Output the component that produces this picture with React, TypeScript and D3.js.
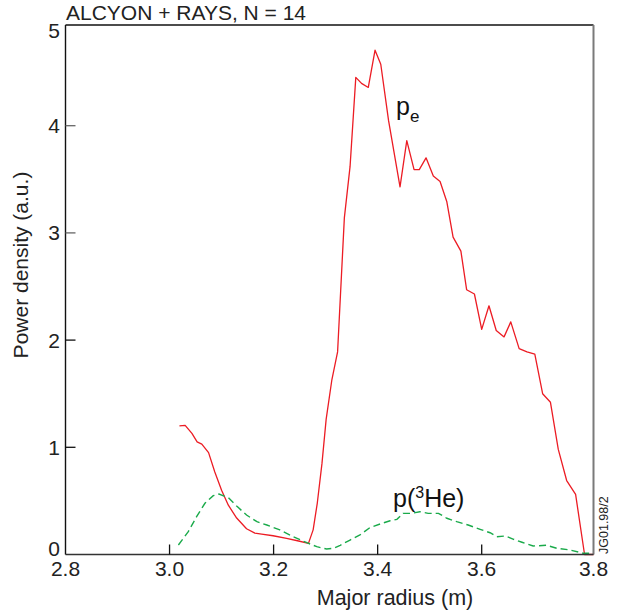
import React from "react";
import * as d3 from "d3";

const title = "ALCYON + RAYS, N = 14";
const xTicks = [2.8, 3.0, 3.2, 3.4, 3.6, 3.8];
const yTicks = [0, 1, 2, 3, 4, 5];

const peRadius = [3.019, 3.030, 3.043, 3.053, 3.062, 3.075, 3.087, 3.100, 3.113, 3.129, 3.148, 3.164, 3.177, 3.199, 3.225, 3.248, 3.267, 3.276, 3.284, 3.293, 3.301, 3.312, 3.323, 3.336, 3.347, 3.358, 3.369, 3.382, 3.395, 3.406, 3.421, 3.443, 3.456, 3.470, 3.480, 3.493, 3.507, 3.520, 3.533, 3.545, 3.560, 3.571, 3.586, 3.600, 3.613, 3.626, 3.640, 3.652, 3.667, 3.681, 3.695, 3.709, 3.723, 3.737, 3.752, 3.768, 3.784, 3.800];
const peValue = [1.20, 1.205, 1.13, 1.05, 1.03, 0.95, 0.77, 0.60, 0.46, 0.34, 0.24, 0.20, 0.19, 0.175, 0.15, 0.126, 0.104, 0.23, 0.48, 0.85, 1.26, 1.63, 1.89, 3.14, 3.62, 4.48, 4.42, 4.38, 4.75, 4.61, 4.05, 3.43, 3.86, 3.59, 3.59, 3.70, 3.53, 3.48, 3.29, 2.96, 2.83, 2.47, 2.43, 2.10, 2.32, 2.09, 2.03, 2.17, 1.92, 1.89, 1.87, 1.50, 1.42, 0.98, 0.69, 0.56, 0.0, 0.0];

const heRadius = [3.017, 3.036, 3.052, 3.068, 3.084, 3.095, 3.113, 3.129, 3.148, 3.168, 3.187, 3.212, 3.238, 3.264, 3.283, 3.302, 3.315, 3.328, 3.347, 3.366, 3.385, 3.405, 3.424, 3.437, 3.449, 3.465, 3.481, 3.497, 3.517, 3.533, 3.552, 3.574, 3.597, 3.615, 3.627, 3.642, 3.657, 3.672, 3.692, 3.716, 3.734, 3.758, 3.782, 3.800];
const heValue = [0.089, 0.213, 0.353, 0.478, 0.549, 0.564, 0.530, 0.452, 0.368, 0.306, 0.275, 0.229, 0.166, 0.110, 0.073, 0.051, 0.058, 0.086, 0.135, 0.182, 0.250, 0.285, 0.315, 0.328, 0.384, 0.384, 0.399, 0.384, 0.384, 0.338, 0.306, 0.275, 0.235, 0.203, 0.166, 0.173, 0.142, 0.114, 0.079, 0.086, 0.058, 0.042, 0.011, 0.011];

const W = 622;
const H = 614;
const FONT = "'Liberation Sans', Arial, Helvetica, sans-serif";

export default function App() {
  const x = d3.scaleLinear().domain([2.8, 3.6, 3.8]).range([65.5, 481.7, 593.5]);
  const y = d3.scaleLinear().domain([0, 4, 5]).range([554.5, 125.7, 25]);

  const line = d3
    .line<[number, number]>()
    .x((d) => x(d[0]))
    .y((d) => y(d[1]));

  const pe = peRadius.map((r, i) => [r, peValue[i]] as [number, number]);
  const he = heRadius.map((r, i) => [r, heValue[i]] as [number, number]);

  const x0 = x(2.8);
  const x1 = x(3.8);
  const y0 = y(0);
  const y1 = y(5);

  return (
    <svg
      width={W}
      height={H}
      style={{ position: "absolute", left: 0, top: 0, background: "#fff" }}
      fontFamily={FONT}
    >
      <rect x={0} y={0} width={W} height={H} fill="#fff" />
      {/* title */}
      <text x={66} y={20} fontSize={21} fill="#222">
        {title}
      </text>

      {/* data */}
      <path d={line(pe) || ""} fill="none" stroke="#ec1c24" strokeWidth={1.3} strokeLinejoin="round" />
      <path d={line(he) || ""} fill="none" stroke="#1aaa4a" strokeWidth={1.4} strokeDasharray="7,4" />

      {/* frame */}
      <line x1={x0} x2={x1} y1={y1} y2={y1} stroke="#111" strokeWidth={1.5} />
      <line x1={x1} x2={x1} y1={y1} y2={y0} stroke="#7a7a7a" strokeWidth={2} />
      <line x1={x0} x2={x1} y1={y0} y2={y0} stroke="#333" strokeWidth={1.6} />
      <line x1={x0} x2={x0} y1={y1} y2={y0} stroke="#111" strokeWidth={1.4} />

      {/* x ticks */}
      {xTicks.map((t) => (
        <g key={"xt" + t}>
          {t > 2.8 && t < 3.8 && (
            <line x1={x(t)} x2={x(t)} y1={y0} y2={y0 - 10} stroke="#111" strokeWidth={1.3} />
          )}
          <text x={x(t)} y={575.5} fontSize={21} textAnchor="middle" fill="#222">
            {t.toFixed(1)}
          </text>
        </g>
      ))}

      {/* y ticks */}
      {yTicks.map((t) => (
        <g key={"yt" + t}>
          {t > 0 && t < 5 && (
            <line x1={x0} x2={x0 + 10} y1={y(t)} y2={y(t)} stroke={t >= 3 ? "#666" : "#111"} strokeWidth={1.3} />
          )}
          <text
            x={60}
            y={y(t) + (t === 0 ? -6 : t === 5 ? 5 : 0) + 7.5}
            fontSize={21}
            textAnchor="end"
            fill="#222"
          >
            {t}
          </text>
        </g>
      ))}

      {/* axis labels */}
      <text x={395} y={605} fontSize={21.5} textAnchor="middle" fill="#222">
        Major radius (m)
      </text>
      <text
        transform="translate(28,265) rotate(-90)"
        fontSize={21}
        textAnchor="middle"
        fill="#222"
      >
        Power density (a.u.)
      </text>

      {/* curve labels */}
      <text x={396} y={115} fontSize={25} fill="#111">
        p<tspan fontSize={17} dy={7}>e</tspan>
      </text>
      <text x={393} y={507} fontSize={25} fill="#111">
        p(<tspan fontSize={16} dy={-9}>3</tspan>
        <tspan dy={9}>He)</tspan>
      </text>

      {/* figure id */}
      <text transform="translate(608,554) rotate(-90)" fontSize={12.5} fill="#222">
        JG01.98/2
      </text>
    </svg>
  );
}
